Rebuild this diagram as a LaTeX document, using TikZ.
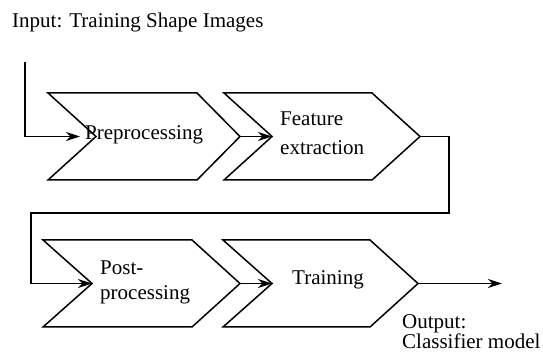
\documentclass[tikz,border=0pt]{standalone}
\usepackage{fontspec}
\setmainfont{Liberation Serif}
\newfontfamily\lserif{Liberation Serif}
\usetikzlibrary{arrows.meta}
\newcommand\mychev[8]{%
  % #1 name, #2 left x, #3 notch x, #4 corner x, #5 tip x, #6 top y, #7 bottom y, #8 mid y
  \draw[chev] (#2,#6) -- (#4,#6) -- (#5,#8) -- (#4,#7) -- (#2,#7) -- (#3,#8) -- cycle;
  \coordinate (#1-notch) at (#3,#8);
  \coordinate (#1-tip) at (#5,#8);
}
\begin{document}
\begin{tikzpicture}[x=1pt,y=1pt,
  chev/.style={draw=black, line width=1.5pt, line join=miter},
  conn/.style={draw=black, line width=1.5pt},
  arr/.style={-{Stealth[length=14pt,width=9pt,inset=4.5pt]}},
  lbl/.style={anchor=base west, inner sep=0pt, font=\lserif\fontsize{21}{25}\selectfont}]
\useasboundingbox (0,0) rectangle (543,353);

% chevrons
\mychev{c1}{48}{96}{197}{240}{260}{173}{216.5}
\mychev{c2}{224}{272}{372}{420}{260}{173}{216.5}
\mychev{c3}{43}{92}{192}{240}{113}{26}{69.5}
\mychev{c4}{223}{272}{370}{418}{113}{26}{69.5}

% labels
\node[lbl] (inlbl) at (12,325) {Input: Training Shape Images};
\node[lbl] (pre) at (85,213) {Preprocessing};
\node[lbl] (feat1) at (280,227) {Feature};
\node[lbl] (feat2) at (280,198) {extraction};
\node[lbl] (post1) at (100,78) {Post-};
\node[lbl] (post2) at (100,53) {processing};
\node[lbl] (train) at (292,68) {Training};
\node[lbl] (out1) at (402,24) {Output:};
\node[lbl] (out2) at (402,4) {Classifier model};

% connectors
\coordinate (inS) at (25,291);
\coordinate (inE) at (80,216.5);
\draw[conn,arr] (inS) |- (inE);
\draw[conn,arr] (c1-tip) -- (c2-notch);
\coordinate (r1) at (449,140);
\coordinate (l1) at (31,140);
\draw[conn,arr] (c2-tip) -| (r1) -- (l1) |- (c3-notch);
\draw[conn,arr] (c3-tip) -- (c4-notch);
\coordinate (outE) at (502,69.5);
\draw[conn,arr] (c4-tip) -- (outE);
\end{tikzpicture}
\end{document}
